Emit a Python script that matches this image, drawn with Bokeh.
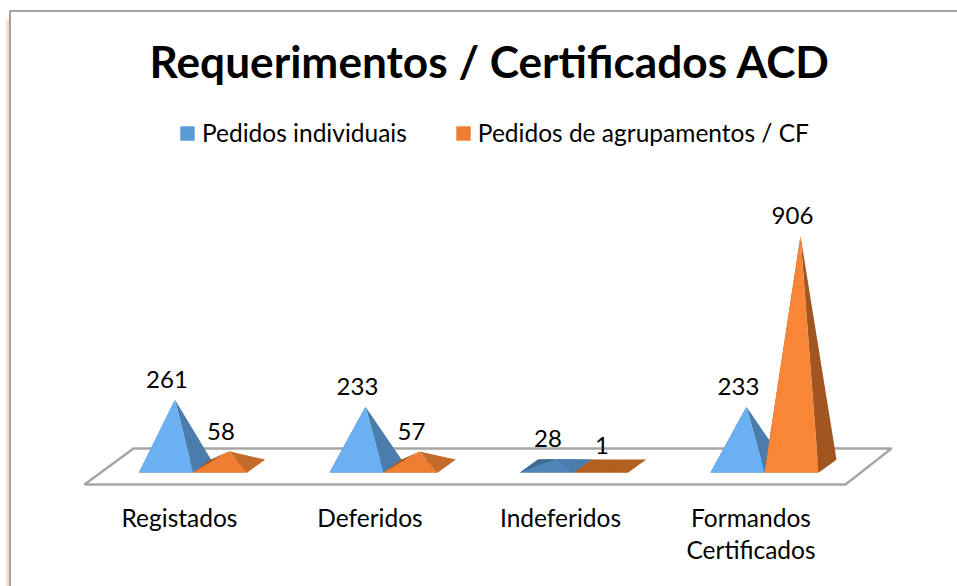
from bokeh.embed import file_html
from bokeh.resources import INLINE
from bokeh.plotting import figure
from bokeh.models import Range1d, Legend, LegendItem
from bokeh.core.properties import value

TITLE = "Requerimentos / Certificados ACD"
categories = ["Registados", "Deferidos", "Indeferidos", "Formandos\nCertificados"]
series_names = ["Pedidos individuais", "Pedidos de agrupamentos / CF"]
individuais = [261, 233, 28, 233]
agrupamentos = [58, 57, 1, 906]
series_values = [individuais, agrupamentos]
legend_colors = ["#5B9BD5", "#ED7D31"]
# face colours per series and category: (front, right, left/base)
blue_faces = [("#6BB0F2", "#4A7DAB", "#44729C"), ("#6BB0F2", "#4A7DAB", "#44729C"),
              ("#4F86BA", "#4A7DAB", "#3F6C97"), ("#6BB0F2", "#4A7DAB", "#44729C")]
orange_faces = [("#EE7E32", "#C46A2A", "#A9581E"), ("#EE7E32", "#C46A2A", "#A9581E"),
                ("#B2601F", "#B2601F", "#B2601F"), ("#F98537", "#A15520", "#A15520")]
faces = [blue_faces, orange_faces]

# layout
W, H = 957, 586
PX_PER_VALUE = 0.2540
GROUP_PX = 190.5
X0_PX = 192.5        # screen x of the first category centre
Y0_PX = 465.5        # screen y of the floor centre
BAR_W = 54 / GROUP_PX
DX = 18 / GROUP_PX
DY = 6.5 / PX_PER_VALUE

p = figure(width=W, height=H, output_backend="svg", toolbar_location=None,
           x_axis_type=None, y_axis_type=None, min_border=0,
           x_range=Range1d(-X0_PX / GROUP_PX, (W - X0_PX) / GROUP_PX),
           y_range=Range1d((Y0_PX - H) / PX_PER_VALUE, Y0_PX / PX_PER_VALUE))
p.outline_line_color = None
p.grid.visible = False
p.background_fill_color = "white"
p.extra_x_ranges["px"] = Range1d(1, W + 1)
p.extra_y_ranges["px"] = Range1d(H + 1, 1)
PX = dict(x_range_name="px", y_range_name="px")

# soft shadow and frame
for sx, shade in zip([6.5, 7.5, 8.5, 9.5], ["#FBEBDF", "#F8DCC8", "#F5CFB4", "#F2C4A3"]):
    p.line([sx, sx], [20, H + 1], line_color=shade, line_width=1, **PX)
p.line([10.5, 10.5, W + 1], [H + 1, 11.5, 11.5], line_color="#A3A3A3", line_width=2, **PX)

# floor
p.patch([85, 846, 892, 134], [485, 485, 449, 449], fill_color="white",
        line_color="#A6A6A6", line_width=2.5, **PX)

# pyramids
for s, vals in enumerate(series_values):
    for c, v in enumerate(vals):
        xl = c - BAR_W + s * BAR_W
        xr = xl + BAR_W
        ax = (xl + xr + DX) / 2
        front, right, left = faces[s][c]
        p.patch([xl, xr, xr + DX, xl + DX], [-DY, -DY, DY, DY], fill_color=left, line_color=None)
        p.patch([xl, xl + DX, ax], [-DY, DY, v], fill_color=left, line_color=None)
        p.patch([xr, xr + DX, ax], [-DY, DY, v], fill_color=right, line_color=None)
        p.patch([xl, xr, ax], [-DY, -DY, v], fill_color=front, line_color=None)

# data labels
FONT = value("Lato")
for s, vals in enumerate(series_values):
    xs = [c - BAR_W + s * BAR_W + BAR_W / 2 for c in range(len(vals))]
    p.text(xs, vals, text=[str(v) for v in vals], text_font=FONT, text_font_size="24px",
           text_color="#000000", text_align="center", text_baseline="middle", x_offset=1, y_offset=-20)

# category labels
p.text([c - 13.5 / GROUP_PX for c in range(len(categories))], [503] * len(categories),
       text=categories, text_font=FONT, text_font_size="24.5px", text_color="#000000",
       text_align="center", text_baseline="top", text_line_height=1.12, y_range_name="px")

# title
p.text([490.5], [61], text=[TITLE], text_font=FONT, text_font_style="bold", text_font_size="44.2px",
       text_color="#000000", text_align="center", text_baseline="middle", **PX)

# legend
dummy = [p.patch([-9, -9], [0, 0], fill_color=col, line_color=None) for col in legend_colors]
legend = Legend(items=[LegendItem(label=n, renderers=[r]) for n, r in zip(series_names, dummy)],
                location=(178, 439), orientation="horizontal", background_fill_alpha=0,
                border_line_color=None, glyph_width=18, glyph_height=18, label_standoff=6,
                spacing=47, padding=10, margin=0,
                label_text_font="Lato", label_text_font_size="24.5px", label_text_color="#000000")
p.add_layout(legend, "center")

open("out.html", "w").write(file_html(p, INLINE))
